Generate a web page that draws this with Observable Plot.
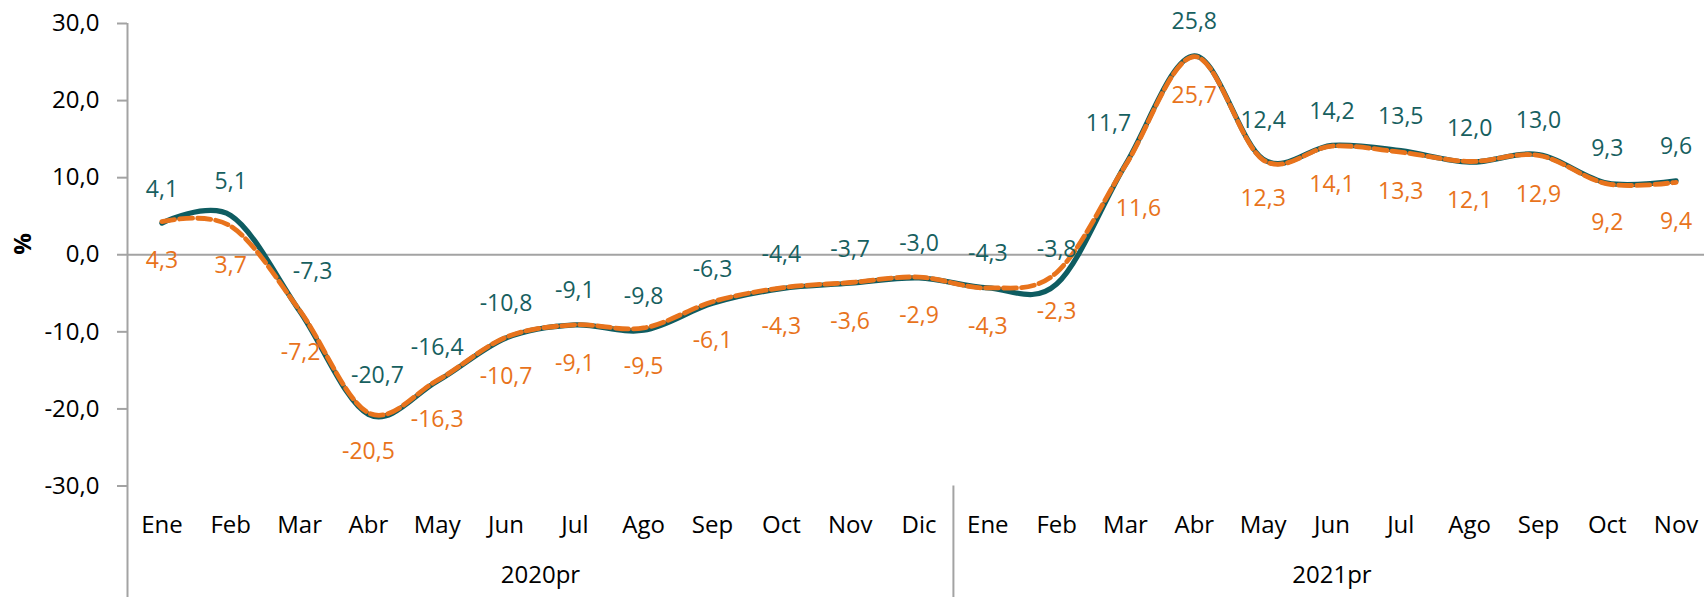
<!DOCTYPE html>
<html><head><meta charset="utf-8">
<script src="https://cdn.jsdelivr.net/npm/d3@7"></script>
<script src="https://cdn.jsdelivr.net/npm/@observablehq/plot@0.6"></script>
<style>
  html,body{margin:0;padding:0;background:#fff;}
  #chart svg{display:block;}
</style>
</head><body><div id="chart"></div>
<script>
// ---- data ----
const years = ["2020pr", "2021pr"];
const months2020 = ["Ene","Feb","Mar","Abr","May","Jun","Jul","Ago","Sep","Oct","Nov","Dic"];
const months2021 = ["Ene","Feb","Mar","Abr","May","Jun","Jul","Ago","Sep","Oct","Nov"];
const serieVerde   = [4.1, 5.1, -7.3, -20.7, -16.4, -10.8, -9.1, -9.8, -6.3, -4.4, -3.7, -3.0,
                      -4.3, -3.8, 11.7, 25.8, 12.4, 14.2, 13.5, 12.0, 13.0, 9.3, 9.6];
const serieNaranja = [4.3, 3.7, -7.2, -20.5, -16.3, -10.7, -9.1, -9.5, -6.1, -4.3, -3.6, -2.9,
                      -4.3, -2.3, 11.6, 25.7, 12.3, 14.1, 13.3, 12.1, 12.9, 9.2, 9.4];
const yTicks = [-30, -20, -10, 0, 10, 20, 30];
const yTitle = "%";

// ---- styling / layout ----
const W = 1704, H = 597;
const mTop = 23, mBottom = 111.5, mLeft = 127, mRight = -6;
const frameH = H - mTop - mBottom;
const verde = "#0e5c61", verdeTxt = "#17605f";
const naranja = "#e8731c";
const gris = "#a3a3a3";
const font = "'Open Sans', 'Noto Sans', sans-serif";
// label placement (px): default offset plus manual nudges, as in the original layout
const dyVerde = -34, dyNaranja = 39;
const nudgeVerde = {2: [13, -5], 3: [9, -5], 14: [-17, -7], 16: [0, -5]};
const nudgeNaranja = {2: [1, 3], 14: [13, 4]};

const months = [...months2020, ...months2021];
const data = months.map((m, i) => ({i, m, a: serieVerde[i], b: serieNaranja[i]}));
const groups = [
  {year: years[0], c: (months2020.length - 1) / 2},
  {year: years[1], c: months2020.length + (months2021.length - 1) / 2}
];
const fmt = v => v.toFixed(1).replace(".", ",");

function labelMarks(key, nudge, dy, fill) {
  const marks = [Plot.text(data.filter(d => !(d.i in nudge)), {
    x: "i", y: key, text: d => fmt(d[key]), dy, fill, fontSize: 23
  })];
  for (const k in nudge) {
    marks.push(Plot.text(data.filter(d => d.i === +k), {
      x: "i", y: key, text: d => fmt(d[key]), dx: nudge[k][0], dy: dy + nudge[k][1],
      fill, fontSize: 23
    }));
  }
  return marks;
}

const chart = Plot.plot({
  width: W, height: H,
  marginTop: mTop, marginBottom: mBottom, marginLeft: mLeft, marginRight: mRight,
  style: {fontFamily: font, background: "#fff", color: "#000", overflow: "visible"},
  x: {type: "linear", domain: [-0.5, months.length - 0.5]},
  y: {domain: [yTicks[0], yTicks[yTicks.length - 1]]},
  marks: [
    Plot.ruleY([0], {stroke: gris, strokeWidth: 2}),
    Plot.axisY({ticks: yTicks, tickFormat: fmt, tickSize: 10, tickPadding: 18,
      fontSize: 24, stroke: gris, strokeWidth: 2, fill: "#000", label: null}),
    Plot.ruleX([-0.5], {stroke: gris, strokeWidth: 2, insetBottom: -mBottom}),
    Plot.ruleX([months2020.length - 0.5], {stroke: gris, strokeWidth: 2,
      insetTop: frameH, insetBottom: -mBottom}),
    Plot.axisX({ticks: d3.range(months.length), tickFormat: i => months[i],
      tickSize: 0, tickPadding: 30, fontSize: 24, fill: "#000", label: null}),
    Plot.text(groups, {x: "c", text: "year", frameAnchor: "bottom", dy: 96.5,
      fontSize: 24, fill: "#000"}),
    Plot.text([yTitle], {frameAnchor: "left", dx: -104, rotate: -90,
      fontSize: 24, fontWeight: "bold", fill: "#000"}),
    Plot.line(data, {x: "i", y: "a", curve: "cardinal", stroke: verde, strokeWidth: 5.2}),
    Plot.line(data, {x: "i", y: "b", curve: "cardinal", stroke: naranja, strokeWidth: 4.8,
      strokeDasharray: "13,5"}),
    ...labelMarks("a", nudgeVerde, dyVerde, verdeTxt),
    ...labelMarks("b", nudgeNaranja, dyNaranja, naranja)
  ]
});
document.getElementById("chart").appendChild(chart);
</script>
</body></html>
